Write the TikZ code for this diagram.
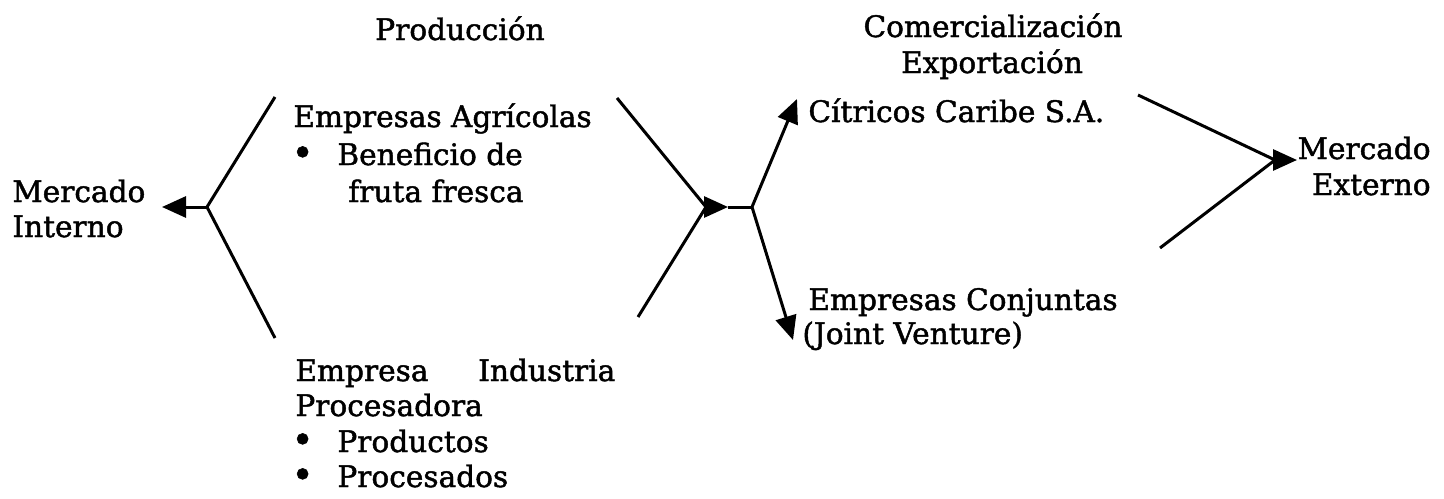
\documentclass[tikz,border=0pt]{standalone}
\usepackage{fontspec}
\setmainfont{DejaVu Serif}[FakeBold=1.5]
\usetikzlibrary{arrows.meta}
\begin{document}
\begin{tikzpicture}[x=0.5pt,y=-0.5pt,
  lbl/.style={inner sep=0pt,font=\fontsize{14.8}{17}\selectfont},
  bul/.style={inner sep=0pt,font=\fontsize{19}{17}\selectfont},
  ln/.style={line width=1.5pt},
  arr/.style={line width=1.5pt,-{Triangle[length=12pt,width=10.5pt]}}]
\useasboundingbox (0,0) rectangle (1444,498);
% titles
\node[lbl,anchor=base] (prod) at (460,40) {Producción};
\node[lbl,anchor=base] (com) at (993,37) {Comercialización};
\node[lbl,anchor=base] (expo) at (992,73) {Exportación};
% left
\node[lbl,anchor=base west] (mi1) at (12,202) {Mercado};
\node[lbl,anchor=base west] (mi2) at (12,237) {Interno};
% empresas agricolas
\node[lbl,anchor=base west] (ea1) at (293,127) {Empresas Agrícolas};
\node[bul,anchor=base west] (bl1) at (291,166) {\textbullet};
\node[lbl,anchor=base west] (ea2) at (337,165) {Beneficio de};
\node[lbl,anchor=base west] (ea3) at (348,202) {fruta fresca};
% empresa industria
\node[lbl,anchor=base west] (ei1) at (295,381) {\makebox[160pt][s]{Empresa Industria}};
\node[lbl,anchor=base west] (ei2) at (295,416) {Procesadora};
\node[bul,anchor=base west] (bl2) at (291,453) {\textbullet};
\node[lbl,anchor=base west] (ei3) at (337,452) {Productos};
\node[bul,anchor=base west] (bl3) at (291,488) {\textbullet};
\node[lbl,anchor=base west] (ei4) at (337,487) {Procesados};
% comercializacion
\node[lbl,anchor=base west] (cc) at (808,122) {Cítricos Caribe S.A.};
\node[lbl,anchor=base west] (ec1) at (808,310) {Empresas Conjuntas};
\node[lbl,anchor=base west] (ec2) at (802,344) {(Joint Venture)};
% right
\node[lbl,anchor=base east] (me1) at (1431,159) {Mercado};
\node[lbl,anchor=base east] (me2) at (1431,195) {Externo};
% coordinates
\coordinate (a1) at (275,97);
\coordinate (a2) at (275,338);
\coordinate (j1) at (207,207);
\coordinate (t1) at (162,207);
\coordinate (b1) at (617,98);
\coordinate (b2) at (638,317);
\coordinate (m2) at (706,207);
\coordinate (t2) at (728,207);
\coordinate (j2) at (752,207);
\coordinate (c1) at (797,99);
\coordinate (c2) at (793,340);
\coordinate (d1) at (1138,95);
\coordinate (d2) at (1160,248);
\coordinate (m3) at (1275,160);
\coordinate (t3) at (1297,160);
% connectors
\draw[ln] (a1) -- (j1) -- (a2);
\draw[arr] (j1) -- (t1);
\draw[ln] (b1) -- (m2) -- (b2);
\draw[arr] (m2) -- (t2);
\draw[ln] (t2) -- (j2);
\draw[arr] (j2) -- (c1);
\draw[arr] (j2) -- (c2);
\draw[ln] (d1) -- (m3) -- (d2);
\draw[arr] (m3) -- (t3);
\end{tikzpicture}
\end{document}
